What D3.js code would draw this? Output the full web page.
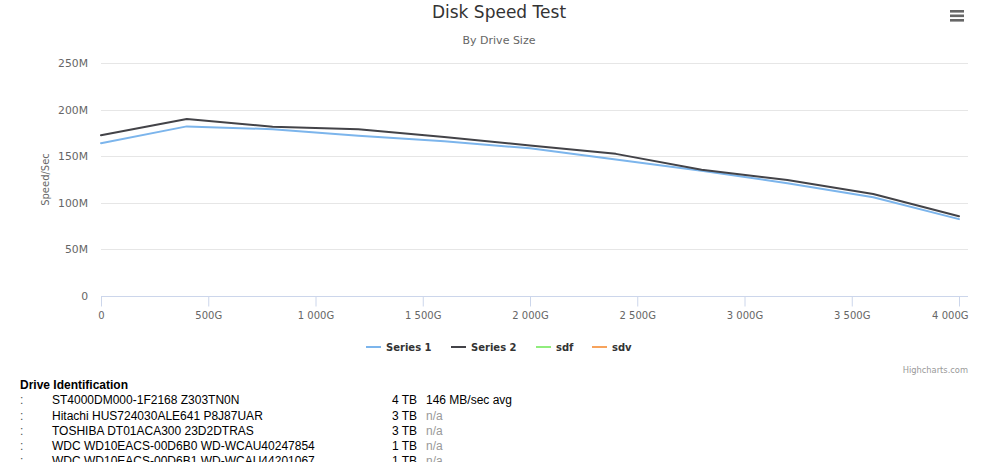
<!DOCTYPE html>
<html><head><meta charset="utf-8">
<script src="https://cdn.jsdelivr.net/npm/d3@7"></script>
<style>
body{margin:0;background:#fff;width:1000px;height:462px;overflow:hidden;position:relative;}
#drives{position:absolute;left:20px;top:378px;font-family:"Liberation Sans",Arial,sans-serif;font-size:12px;color:#000;}
#drives .hdr{font-weight:bold;height:15.3px;line-height:15px;}
#drives .row{position:relative;height:15.3px;line-height:15px;white-space:nowrap;}
#drives .row span{position:absolute;top:0;}
</style></head><body>
<svg id="chart" width="1000" height="378"></svg>
<div id="drives"></div>
<script>
const sizesG = [0, 400, 800, 1200, 1600, 2000, 2400, 2800, 3200, 3600, 4000];
const series1 = [164, 182, 179, 172, 166, 158.5, 146.5, 134.5, 121, 106, 82.5];
const series2 = [172.5, 190, 181.7, 179, 170.5, 161.5, 152.5, 135.5, 124.5, 109.5, 85.5];
const seriesNames = ["Series 1", "Series 2", "sdf", "sdv"];
const seriesColors = ["#7cb5ec", "#434348", "#90ed7d", "#f7a35c"];
const xTickValues = [0, 500, 1000, 1500, 2000, 2500, 3000, 3500, 4000];
const yTickValues = [0, 50, 100, 150, 200, 250];
const driveNames = ["ST4000DM000-1F2168 Z303TN0N", "Hitachi HUS724030ALE641 P8J87UAR", "TOSHIBA DT01ACA300 23D2DTRAS", "WDC WD10EACS-00D6B0 WD-WCAU40247854", "WDC WD10EACS-00D6B1 WD-WCAU44201067"];
const driveSizes = ["4 TB", "3 TB", "3 TB", "1 TB", "1 TB"];
const driveSpeeds = ["146 MB/sec avg", "n/a", "n/a", "n/a", "n/a"];

const svg = d3.select("#chart");
const font = "'DejaVu Sans', 'Lucida Grande', sans-serif";
const pLeft = 101, pRight = 968, plotR = 959, pTop = 63, pBottom = 296;
const x = d3.scaleLinear().domain([0, 4000]).range([pLeft, plotR]);
const y = d3.scaleLinear().domain([0, 250]).range([pBottom, pTop]);

// title
svg.append("text").attr("x", 499).attr("y", 18).attr("text-anchor", "middle")
  .style("font-family", font).style("font-size", "17px").attr("fill", "#333").text("Disk Speed Test");
svg.append("text").attr("x", 499).attr("y", 44).attr("text-anchor", "middle")
  .style("font-family", font).style("font-size", "11px").attr("fill", "#666").text("By Drive Size");

// menu icon
[0, 1, 2].forEach(i => svg.append("rect").attr("x", 950).attr("y", 10 + i * 4.5).attr("width", 14).attr("height", 2.6).attr("fill", "#666"));

// gridlines
svg.append("g").selectAll("line").data(yTickValues.filter(v => v > 0)).join("line")
  .attr("x1", pLeft).attr("x2", pRight).attr("y1", d => Math.round(y(d)) + 0.5).attr("y2", d => Math.round(y(d)) + 0.5)
  .attr("stroke", "#e6e6e6").attr("stroke-width", 1);

// y axis labels
const yAxis = d3.axisLeft(y).tickValues(yTickValues).tickSize(0).tickPadding(0)
  .tickFormat(d => d === 0 ? "0" : d + "M");
const gy = svg.append("g").attr("transform", `translate(88,0)`).call(yAxis);
gy.select(".domain").remove();
gy.selectAll("text").style("font-family", font).style("font-size", "10.8px").attr("fill", "#666");

// x axis
const xAxis = d3.axisBottom(x).tickValues(xTickValues).tickSize(10).tickPadding(5)
  .tickFormat(d => d === 0 ? "0" : d3.format(",")(d).replace(/,/g, " ") + "G");
const gx = svg.append("g").attr("transform", `translate(0,${pBottom + 0.5})`).call(xAxis);
gx.select(".domain").attr("d", `M${pLeft},0H${pRight}`).attr("stroke", "#ccd6eb");
gx.selectAll("line").attr("stroke", "#ccd6eb");
gx.selectAll("text").style("font-family", font).style("font-size", "10px").attr("fill", "#666");
// last label justified inside the chart edge, as Highcharts does
gx.selectAll(".tick").filter(d => d === 4000).select("text")
  .attr("text-anchor", "end").attr("x", pRight - plotR);

// y axis title
svg.append("text").attr("transform", `translate(49,${(pTop + pBottom) / 2}) rotate(-90)`).attr("text-anchor", "middle")
  .style("font-family", font).style("font-size", "10px").attr("fill", "#666").text("Speed/Sec");

// lines
const line = d3.line().x((d, i) => x(sizesG[i])).y(d => y(d));
[series1, series2].forEach((s, i) => {
  svg.append("path").datum(s).attr("d", line).attr("fill", "none")
    .attr("stroke", seriesColors[i]).attr("stroke-width", 2).attr("stroke-linejoin", "round").attr("stroke-linecap", "round");
});

// legend
const legendX = [366, 451, 536, 592];
const lg = svg.append("g");
seriesNames.forEach((n, i) => {
  lg.append("line").attr("x1", legendX[i]).attr("x2", legendX[i] + 15).attr("y1", 347).attr("y2", 347)
    .attr("stroke", seriesColors[i]).attr("stroke-width", 2);
  lg.append("text").attr("x", legendX[i] + 20).attr("y", 351)
    .style("font-family", font).style("font-size", "10px").style("font-weight", "bold").attr("fill", "#333").text(n);
});

// credits
svg.append("text").attr("x", 968).attr("y", 373).attr("text-anchor", "end")
  .style("font-family", font).style("font-size", "8.3px").attr("fill", "#999").text("Highcharts.com");

// drive table
const dv = d3.select("#drives");
dv.append("div").attr("class", "hdr").text("Drive Identification");
driveNames.forEach((n, i) => {
  const r = dv.append("div").attr("class", "row");
  r.append("span").style("left", "0px").style("color", "#555").text(":");
  r.append("span").style("left", "32px").text(n);
  r.append("span").style("left", "372px").text(driveSizes[i]);
  r.append("span").style("left", "406px").style("color", driveSpeeds[i] === "n/a" ? "#999" : "#000").text(driveSpeeds[i]);
});
</script>
</body></html>
